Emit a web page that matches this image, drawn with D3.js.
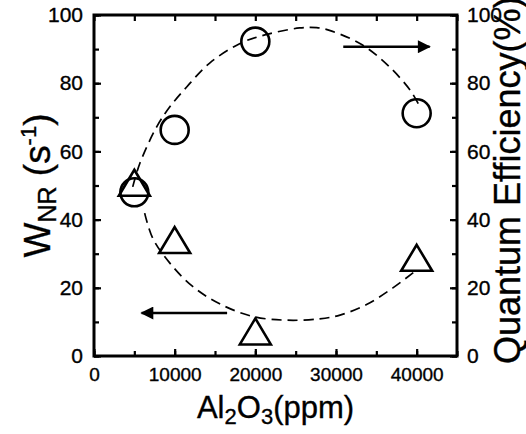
<!DOCTYPE html>
<html>
<head>
<meta charset="utf-8">
<script src="https://d3js.org/d3.v7.min.js"></script>
<style>
body {margin:0; background:white;}
svg {display:block; font-family:"Liberation Sans", Arial, sans-serif;}
text {stroke:black; stroke-width:0.35px;}
</style>
</head>
<body>
<svg width="526" height="434"></svg>
<script>
// Al2O3 content (ppm)
var al2o3 = [5000, 10000, 20000, 40000];
// quantum efficiency (%) - circles, right axis
var quantumEff = [48, 66.3, 92.2, 71.2];
// W_NR (s^-1) - triangles, left axis
var wnr = [50.8, 34, 7.2, 28.8];

// guide curves (dashed)
var upperCurve = [[4800,49.6],[5700,56.6],[7770,67.2],[9380,73],[11490,78.9],[14340,85.9],
  [18050,91.6],[21400,94.3],[25500,96.2],[27600,96.3],[29570,95.2],[33290,91.2],[36630,84.8],[39300,77.6],[40300,73.5]];
var lowerCurve = [[6280,41.9],[7270,34.6],[9380,27.3],[12230,20.4],[15580,15.3],[19670,11.6],
  [23880,10.5],[27970,10.9],[30500,12],[33790,15.1],[37010,19.9],[39990,25.2]];

// arrows pointing to the axis each series belongs to
var arrows = [{from:16500, to:5900, y:12.6}, {from:30900, to:41600, y:90.7}];

var xTicks = [0, 10000, 20000, 30000, 40000];
var yTicks = [0, 20, 40, 60, 80, 100];

function draw() {
  var left = 94, right = 457, top = 15, bottom = 356;
  var x = d3.scaleLinear().domain([0, 45000]).range([left, right]);
  var y = d3.scaleLinear().domain([0, 100]).range([bottom, top]);
  var y2 = d3.scaleLinear().domain([0, 100]).range([bottom, top]);

  var svg = d3.select("svg");

  // dashed curves
  var line = d3.line().x(function(d) {return x(d[0]);}).y(function(d) {return y(d[1]);})
    .curve(d3.curveCatmullRom);
  [upperCurve, lowerCurve].forEach(function(c) {
    svg.append("path").attr("d", line(c)).attr("fill", "none")
      .attr("stroke", "black").attr("stroke-width", 1.7).attr("stroke-dasharray", "10,6");
  });

  // axes
  function styleAxis(g, size) {
    g.select(".domain").remove();
    g.selectAll("line").attr("stroke", "black").attr("stroke-width", 2.2);
    g.selectAll("text").style("font-size", size + "px").attr("fill", "black");
  }
  var xMinor = d3.range(0, 45001, 5000);
  var yMinor = d3.range(0, 101, 10);

  svg.append("g").attr("transform", "translate(0," + bottom + ")")
    .call(d3.axisBottom(x).tickValues(xMinor).tickSize(-5).tickFormat(""))
    .call(styleAxis, 19);
  svg.append("g").attr("transform", "translate(0," + bottom + ")")
    .call(d3.axisBottom(x).tickValues(xTicks).tickSize(-7).tickPadding(12).tickFormat(d3.format("d")))
    .call(styleAxis, 19);
  svg.append("g").attr("transform", "translate(0," + top + ")")
    .call(d3.axisTop(x).tickValues(xMinor).tickSize(-6).tickFormat(""))
    .call(styleAxis, 19);

  svg.append("g").attr("transform", "translate(" + left + ",0)")
    .call(d3.axisLeft(y).tickValues(yMinor).tickSize(-5).tickFormat(""))
    .call(styleAxis, 21);
  svg.append("g").attr("transform", "translate(" + left + ",0)")
    .call(d3.axisLeft(y).tickValues(yTicks).tickSize(-7).tickPadding(11))
    .call(styleAxis, 21);
  svg.append("g").attr("transform", "translate(" + right + ",0)")
    .call(d3.axisRight(y2).tickValues(yMinor).tickSize(-5).tickFormat(""))
    .call(styleAxis, 21);
  svg.append("g").attr("transform", "translate(" + right + ",0)")
    .call(d3.axisRight(y2).tickValues(yTicks).tickSize(-7).tickPadding(10))
    .call(styleAxis, 21);

  // frame
  svg.append("rect").attr("x", left).attr("y", top)
    .attr("width", right - left).attr("height", bottom - top)
    .attr("fill", "none").attr("stroke", "black").attr("stroke-width", 3);

  // markers
  svg.selectAll(".qe").data(al2o3).enter().append("circle")
    .attr("cx", function(d) {return x(d);})
    .attr("cy", function(d, i) {return y2(quantumEff[i]);})
    .attr("r", 14).attr("fill", "none").attr("stroke", "black").attr("stroke-width", 2.6);

  var tri = function(cx, cy) {
    return "M" + cx + "," + (cy - 13) + "L" + (cx + 15.5) + "," + (cy + 13) + "L" + (cx - 15.5) + "," + (cy + 13) + "Z";
  };
  svg.selectAll(".wnr").data(al2o3).enter().append("path")
    .attr("d", function(d, i) {return tri(x(d), y(wnr[i]));})
    .attr("fill", "none").attr("stroke", "black").attr("stroke-width", 2.6)
    .attr("stroke-linejoin", "miter");

  // arrows
  svg.append("defs").append("marker").attr("id", "head")
    .attr("viewBox", "0 0 10 10").attr("refX", 9).attr("refY", 5)
    .attr("markerWidth", 6).attr("markerHeight", 5).attr("markerUnits", "strokeWidth")
    .attr("orient", "auto")
    .append("path").attr("d", "M0,0L10,5L0,10Z").attr("fill", "black");
  arrows.forEach(function(a) {
    svg.append("line").attr("x1", x(a.from)).attr("x2", x(a.to))
      .attr("y1", y(a.y)).attr("y2", y(a.y))
      .attr("stroke", "black").attr("stroke-width", 2.6).attr("marker-end", "url(#head)");
  });

  // axis titles
  svg.append("text").attr("transform", "translate(50," + ((top + bottom) / 2) + ") rotate(-90)")
    .attr("text-anchor", "middle").style("font-size", "37px")
    .html('W<tspan style="font-size:25px" dy="6">NR</tspan><tspan dy="-6"> (s</tspan><tspan style="font-size:22px" dy="-14">-1</tspan><tspan dy="14">)</tspan>');

  svg.append("text").attr("transform", "translate(520,364) rotate(-90)")
    .attr("text-anchor", "start").style("font-size", "36px")
    .text("Quantum Efficiency(%)");

  svg.append("text").attr("x", (left + right) / 2).attr("y", 418)
    .attr("text-anchor", "middle").style("font-size", "31px")
    .html('Al<tspan style="font-size:22px" dy="6">2</tspan><tspan dy="-6">O</tspan><tspan style="font-size:22px" dy="6">3</tspan><tspan dy="-6">(ppm)</tspan>');
}
draw();
</script>
</body>
</html>
